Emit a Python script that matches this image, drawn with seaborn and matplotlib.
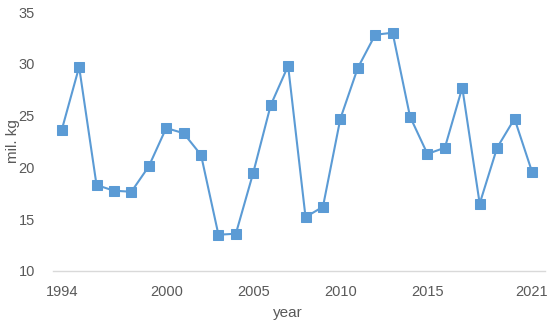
import pandas as pd
import matplotlib
matplotlib.use("Agg")
import matplotlib.pyplot as plt
import seaborn as sns

years = list(range(1994, 2022))
values = [23.6, 29.7, 18.3, 17.75, 17.65, 20.1, 23.8, 23.3, 21.2, 13.5,
          13.6, 19.5, 26.0, 29.8, 15.2, 16.2, 24.7, 29.6, 32.8, 33.0,
          24.9, 21.3, 21.9, 27.7, 16.5, 21.9, 24.7, 19.6]
xticks = [1994, 2000, 2005, 2010, 2015, 2021]
yticks = [10, 15, 20, 25, 30, 35]

df = pd.DataFrame({'year': years, 'value': values})

sns.set_style("white")
plt.rcParams['font.family'] = ['Liberation Sans', 'DejaVu Sans']

color = '#5B9BD5'
text_color = '#595959'

fig = plt.figure(figsize=(5.5, 3.28), dpi=100)
ax = fig.add_axes([53/550, 1 - 271/328, (545 - 53)/550, (271 - 12)/328])

sns.lineplot(data=df, x='year', y='value', ax=ax, color=color, linewidth=1.5,
             marker='s', markersize=7, markeredgecolor=color, markerfacecolor=color)

ax.set_xlim(1993.5, 2021.75)
ax.set_ylim(10, 35)
ax.set_xticks(xticks)
ax.set_yticks(yticks)
ax.tick_params(axis='both', colors=text_color, labelsize=10.5, length=0)
ax.tick_params(axis='x', pad=10)
ax.tick_params(axis='y', pad=13)

for side in ['top', 'right', 'left']:
    ax.spines[side].set_visible(False)
ax.spines['bottom'].set_color('#D9D9D9')
ax.spines['bottom'].set_linewidth(1)

ax.set_xlabel('year', color=text_color, fontsize=11)
ax.set_ylabel('mil. kg', color=text_color, fontsize=11)
ax.xaxis.set_label_coords(0.478, -0.137)
ax.yaxis.set_label_coords(-0.068, 0.5)

fig.savefig('out.png', dpi=100)
